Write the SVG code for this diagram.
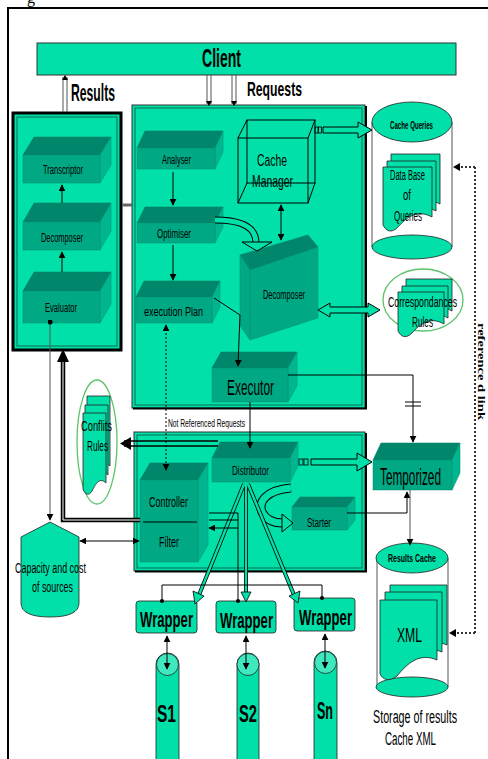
<svg xmlns="http://www.w3.org/2000/svg" width="488" height="759" viewBox="0 0 488 759">
<style>
.t{font-family:"Liberation Sans Narrow","Liberation Sans",Arial,sans-serif;fill:#000}
.b{font-weight:bold}
.gr{fill:#00e0a8}
.tp{fill:#00866a;stroke:#00795f;stroke-width:.5}
.fr{fill:#00a884;stroke:#00906f;stroke-width:.5}
.sd{fill:#00b590;stroke:#00906f;stroke-width:.5}
.ln{stroke:#000;fill:none;stroke-width:1}
.gl{stroke:#555;fill:none;stroke-width:1}
.pg{fill:#00e0a8;stroke:#222;stroke-width:.8}
.box{fill:#00e0a8;stroke:#333;stroke-width:1}
.in{fill:none;stroke:#0a6b55;stroke-width:1}
</style>
<defs>
<marker id="ah" viewBox="0 0 10 10" refX="9" refY="5" markerWidth="7" markerHeight="7" markerUnits="userSpaceOnUse" orient="auto-start-reverse"><path d="M0,0L10,5L0,10Z" fill="#000"/></marker>
<marker id="dot" viewBox="0 0 10 10" refX="5" refY="5" markerWidth="5" markerHeight="5" markerUnits="userSpaceOnUse"><circle cx="5" cy="5" r="5" fill="#000"/></marker>
<path id="pgDB" d="M383,167h49v50c-15,-8 -25,0 -34,10c-7,7 -12,4 -15,-2z"/>
<path id="pgCR" d="M398,292h46v32c-14,-8 -24,0 -32,9c-6,6 -11,4 -14,-2z"/>
<path id="pgCF" d="M83,413h23v70c-6,-6 -10,0 -14,8c-3,5 -7,4 -9,-2z"/>
<path id="pgX" d="M380,600h57v60c-18,-8 -30,4 -40,16c-8,6 -14,4 -17,-2z"/>
</defs>
<rect width="488" height="759" fill="#fff"/>
<text x="27" y="3" font-family="Liberation Serif,serif" font-size="16">g</text>
<path d="M8,759V8H488" fill="none" stroke="#000" stroke-width="2"/>

<g id="client">
<rect x="37" y="43" width="419" height="32" class="box"/>
<text x="202" y="67" class="t b" font-size="25" textLength="39" lengthAdjust="spacingAndGlyphs">Client</text>
</g>

<g id="labels">
<text x="71" y="101" class="t b" font-size="23" textLength="44" lengthAdjust="spacingAndGlyphs">Results</text>
<text x="247" y="96" class="t b" font-size="21" textLength="55" lengthAdjust="spacingAndGlyphs">Requests</text>
<text x="302" y="369" class="t" font-size="10" textLength="64" lengthAdjust="spacingAndGlyphs">Referenced Requests</text>
<text x="168" y="427" class="t" font-size="10" textLength="77" lengthAdjust="spacingAndGlyphs">Not Referenced Requests</text>
<text transform="translate(478,323) rotate(90)" font-family="Liberation Serif,serif" font-weight="bold" font-size="11" textLength="97" lengthAdjust="spacingAndGlyphs">reference d link</text>
</g>

<g id="left-box">
<rect x="13" y="113" width="108" height="237" fill="#00e0a8" stroke="#000" stroke-width="3"/>
<rect x="17" y="117" width="100" height="229" class="in"/>
</g>
<g id="transcriptor">
<polygon points="23,155 34,137 111,137 100,155" class="tp"/><polygon points="100,155 111,137 111,165 100,183" class="sd"/><rect x="23" y="155" width="77" height="28" class="fr"/>
<text x="43" y="174" class="t" font-size="12" textLength="40" lengthAdjust="spacingAndGlyphs">Transcriptor</text>
</g>
<g id="decomposer-left">
<polygon points="23,222 34,203 111,203 100,222" class="tp"/><polygon points="100,222 111,203 111,231 100,250" class="sd"/><rect x="23" y="222" width="77" height="28" class="fr"/>
<text x="41" y="242" class="t" font-size="12" textLength="42" lengthAdjust="spacingAndGlyphs">Decomposer</text>
</g>
<g id="evaluator">
<polygon points="23,291 34,272 111,272 100,291" class="tp"/><polygon points="100,291 111,272 111,304 100,323" class="sd"/><rect x="23" y="291" width="77" height="32" class="fr"/>
<text x="45" y="312" class="t" font-size="12" textLength="32" lengthAdjust="spacingAndGlyphs">Evaluator</text>
</g>

<g id="mediator-box">
<rect x="132" y="105" width="233" height="303" class="box"/>
<rect x="135" y="108" width="227" height="297" class="in"/>
<path d="M133,408.5H366V106" fill="none" stroke="#000" stroke-width="2"/>
</g>
<g id="analyser">
<polygon points="137,148 145,131 223,131 215,148" class="tp"/><polygon points="215,148 223,131 223,152 215,169" class="sd"/><rect x="137" y="148" width="78" height="21" class="fr"/>
<text x="162" y="164" class="t" font-size="12" textLength="29" lengthAdjust="spacingAndGlyphs">Analyser</text>
</g>
<g id="optimiser">
<polygon points="137,223 145,207 223,207 215,223" class="tp"/><polygon points="215,223 223,207 223,227 215,243" class="sd"/><rect x="137" y="223" width="78" height="20" class="fr"/>
<text x="157" y="238" class="t" font-size="12" textLength="34" lengthAdjust="spacingAndGlyphs">Optimiser</text>
</g>
<g id="execution-plan">
<polygon points="136,297 144,281 220,281 212,297" class="tp"/><polygon points="212,297 220,281 220,307 212,323" class="sd"/><rect x="136" y="297" width="76" height="26" class="fr"/>
<text x="144" y="316" class="t" font-size="12" textLength="59" lengthAdjust="spacingAndGlyphs">execution Plan</text>
</g>
<g id="cache-manager" fill="none" stroke="#000" stroke-width="1">
<rect x="247" y="120" width="68" height="63"/>
<rect x="238" y="138" width="70" height="65"/>
<path d="M238,138L247,120M308,138L315,120M238,203L247,183M308,203L315,183"/>
<text x="257" y="166" class="t" stroke="none" font-size="17" textLength="30" lengthAdjust="spacingAndGlyphs">Cache</text>
<text x="252" y="187" class="t" stroke="none" font-size="17" textLength="41" lengthAdjust="spacingAndGlyphs">Manager</text>
</g>
<g id="decomposer">
<polygon points="240,255 308,235 318,247 250,270" class="tp"/>
<polygon points="240,255 250,270 250,340 240,326" class="fr"/>
<polygon points="250,270 318,247 318,318 250,340" class="fr"/>
<text x="263" y="299" class="t" font-size="12" textLength="42" lengthAdjust="spacingAndGlyphs">Decomposer</text>
</g>
<g id="executor">
<polygon points="212,368 221,352 297,352 288,368" class="tp"/><polygon points="288,368 297,352 297,386 288,402" class="sd"/><rect x="212" y="368" width="76" height="34" class="fr"/>
<text x="227" y="395" class="t" font-size="22" textLength="47" lengthAdjust="spacingAndGlyphs">Executor</text>
</g>

<g id="cache-queries">
<path d="M372,122V247M452,122V247" class="gl"/>
<ellipse cx="412" cy="247" rx="40" ry="12" class="pg"/>
<ellipse cx="412" cy="122" rx="40" ry="20" class="pg"/>
<text x="390" y="129" class="t b" font-size="10" textLength="43" lengthAdjust="spacingAndGlyphs">Cache Queries</text>
<use href="#pgDB" transform="translate(8,-13)" class="pg"/>
<use href="#pgDB" transform="translate(4,-6)" class="pg"/>
<use href="#pgDB" class="pg"/>
<text x="390" y="180" class="t" font-size="14" textLength="35" lengthAdjust="spacingAndGlyphs">Data Base</text>
<text x="403" y="200" class="t" font-size="14" textLength="8" lengthAdjust="spacingAndGlyphs">of</text>
<text x="394" y="221" class="t" font-size="14" textLength="28" lengthAdjust="spacingAndGlyphs">Queries</text>
</g>

<g id="correspondances-rules">
<ellipse cx="423" cy="300" rx="40" ry="31" fill="#fff" stroke="#5cc36a" stroke-width="1.3"/>
<use href="#pgCR" transform="translate(8,-13)" class="pg"/>
<use href="#pgCR" transform="translate(4,-6)" class="pg"/>
<use href="#pgCR" class="pg"/>
<text x="388" y="307" class="t" font-size="15" textLength="69" lengthAdjust="spacingAndGlyphs">Correspondances</text>
<text x="412" y="327" class="t" font-size="15" textLength="21" lengthAdjust="spacingAndGlyphs">Rules</text>
</g>

<g id="conflits-rules">
<ellipse cx="97" cy="442" rx="20" ry="62" fill="#fff" stroke="#5cc36a" stroke-width="1.3"/>
<use href="#pgCF" transform="translate(4,-17)" class="pg"/>
<use href="#pgCF" transform="translate(2,-8)" class="pg"/>
<use href="#pgCF" class="pg"/>
<text x="81" y="431" class="t" font-size="14" textLength="31" lengthAdjust="spacingAndGlyphs">Conflits</text>
<text x="87" y="451" class="t" font-size="14" textLength="21" lengthAdjust="spacingAndGlyphs">Rules</text>
</g>

<g id="lower-box">
<rect x="134" y="432" width="231" height="139" class="box"/>
<rect x="137" y="435" width="225" height="133" class="in"/>
<path d="M135,571.5H366V433" fill="none" stroke="#000" stroke-width="2"/>
</g>
<g id="controller-filter">
<polygon points="140,480 150,463 208,463 198,480" class="tp"/><polygon points="198,480 208,463 208,545 198,562" class="sd"/><rect x="140" y="480" width="58" height="82" class="fr"/>
<path d="M143,522H197" stroke="#000" stroke-width="1"/>
<text x="149" y="507" class="t" font-size="15" textLength="39" lengthAdjust="spacingAndGlyphs">Controller</text>
<text x="159" y="547" class="t" font-size="15" textLength="20" lengthAdjust="spacingAndGlyphs">Filter</text>
</g>
<g id="distributor">
<polygon points="212,458 220,442 298,442 290,458" class="tp"/><polygon points="290,458 298,442 298,466 290,482" class="sd"/><rect x="212" y="458" width="78" height="24" class="fr"/>
<text x="232" y="475" class="t" font-size="12" textLength="37" lengthAdjust="spacingAndGlyphs">Distributor</text>
</g>
<g id="starter">
<polygon points="292,507 300,497 355,497 347,507" class="tp"/><polygon points="347,507 355,497 355,520 347,530" class="sd"/><rect x="292" y="507" width="55" height="23" class="fr"/>
<text x="307" y="527" class="t" font-size="12" textLength="24" lengthAdjust="spacingAndGlyphs">Starter</text>
</g>
<g id="temporized">
<polygon points="373,460 381,443 460,443 452,460" class="tp"/><polygon points="452,460 460,443 460,473 452,490" class="sd"/><rect x="373" y="460" width="79" height="30" class="fr"/>
<text x="380" y="485" class="t" font-size="24" textLength="61" lengthAdjust="spacingAndGlyphs">Temporized</text>
</g>

<g id="results-cache">
<path d="M377,558V687M448,558V687" class="gl"/>
<ellipse cx="412" cy="687" rx="36" ry="10" class="pg"/>
<ellipse cx="412" cy="558" rx="36" ry="15" class="pg"/>
<text x="388" y="562" class="t b" font-size="11" textLength="48" lengthAdjust="spacingAndGlyphs">Results Cache</text>
<use href="#pgX" transform="translate(10,-15)" class="pg"/>
<use href="#pgX" transform="translate(5,-8)" class="pg"/>
<use href="#pgX" class="pg"/>
<text x="397" y="642" class="t" font-size="20" textLength="25" lengthAdjust="spacingAndGlyphs">XML</text>
<text x="373" y="723" class="t" font-size="18" textLength="84" lengthAdjust="spacingAndGlyphs">Storage of results</text>
<text x="385" y="745" class="t" font-size="18" textLength="51" lengthAdjust="spacingAndGlyphs">Cache XML</text>
</g>

<g id="capacity">
<path d="M50,522L79,537V603Q79,617 50,617Q21,617 21,603V537Z" class="pg"/>
<text x="15" y="573" class="t" font-size="14" textLength="71" lengthAdjust="spacingAndGlyphs">Capacity and cost</text>
<text x="32" y="592" class="t" font-size="14" textLength="41" lengthAdjust="spacingAndGlyphs">of sources</text>
</g>

<g id="wrapper1"><rect x="136" y="601" width="61" height="32" rx="3" class="pg"/><text x="140" y="627" class="t b" font-size="22" textLength="53" lengthAdjust="spacingAndGlyphs">Wrapper</text></g>
<g id="wrapper2"><rect x="216" y="601" width="60" height="32" rx="3" class="pg"/><text x="220" y="628" class="t b" font-size="22" textLength="53" lengthAdjust="spacingAndGlyphs">Wrapper</text></g>
<g id="wrapper3"><rect x="294" y="598" width="61" height="33" rx="3" class="pg"/><text x="299" y="625" class="t b" font-size="22" textLength="53" lengthAdjust="spacingAndGlyphs">Wrapper</text></g>

<g id="s1"><rect x="156" y="653" width="23" height="120" rx="11.5" class="pg"/><circle cx="167.5" cy="664.5" r="11" fill="#40e8c0" stroke="#222" stroke-width=".8"/><text x="157" y="722" class="t b" font-size="24" textLength="19" lengthAdjust="spacingAndGlyphs">S1</text></g>
<g id="s2"><rect x="237" y="653" width="22" height="120" rx="11" class="pg"/><circle cx="248" cy="664.5" r="11" fill="#40e8c0" stroke="#222" stroke-width=".8"/><text x="239" y="722" class="t b" font-size="24" textLength="18" lengthAdjust="spacingAndGlyphs">S2</text></g>
<g id="sn"><rect x="314" y="651" width="23" height="120" rx="11.5" class="pg"/><circle cx="325.5" cy="662.5" r="11" fill="#40e8c0" stroke="#222" stroke-width=".8"/><text x="317" y="719" class="t b" font-size="24" textLength="16" lengthAdjust="spacingAndGlyphs">Sn</text></g>

<g id="connectors">
<path d="M207,75V104M211,75V104M232,75V104M236,75V104" class="gl"/>
<path d="M206,101L209,106L212,101ZM231,101L234,106L237,101Z" fill="#000"/>
<path d="M63,112V77M67,112V77" class="gl"/>
<path d="M62,80L65,75L68,80Z" fill="#000"/>
<path d="M122,205H132" stroke="#666" stroke-width="3"/>
<path d="M62,203V185" class="ln" stroke-width="1.5" marker-end="url(#ah)"/>
<path d="M62,272V252" class="ln" stroke-width="1.5" marker-end="url(#ah)"/>
<path d="M50,322V520" class="gl" marker-start="url(#dot)" marker-end="url(#ah)"/>
<path d="M173,172V205" class="ln" marker-end="url(#ah)"/>
<path d="M173,245V280" class="ln" marker-end="url(#ah)"/>
<path d="M281,205V240" class="ln" marker-start="url(#ah)" marker-end="url(#ah)"/>
<path d="M240,315L214,298M240,315L238,366" class="ln" stroke-width="2" marker-end="url(#ah)"/>
<path d="M215,220C244,220 256,228 256,243" fill="none" stroke="#000" stroke-width="7"/>
<path d="M215,220C244,220 256,228 256,243" fill="none" stroke="#00e0a8" stroke-width="5"/>
<polygon points="242,242 272,242 257,251" fill="#00e0a8" stroke="#000" stroke-width="1"/>
<rect x="315" y="127" width="3" height="6" fill="none" stroke="#000" stroke-width=".8"/>
<rect x="318.5" y="127" width="3" height="6" fill="none" stroke="#000" stroke-width=".8"/>
<path d="M323,127H358V122L372,130L358,138V133H323Z" fill="#00e0a8" stroke="#000" stroke-width="1"/>
<path d="M318,310L330,303V307H368V303L380,310L368,317V313H330V317Z" fill="#00e0a8" stroke="#000" stroke-width="1"/>
<path d="M288,375H413V442" class="ln" marker-end="url(#ah)"/>
<path d="M405,402H421M405,406H421" class="ln"/>
<path d="M166,325V470" class="ln" stroke-dasharray="2,2" marker-start="url(#ah)" marker-end="url(#ah)"/>
<path d="M250,402V448" class="ln" marker-end="url(#ah)"/>
<path d="M218,441H124M218,446H124" stroke="#000" stroke-width="1.3"/>
<path d="M131,437L120,443.5L131,450Z" fill="#000"/>
<path d="M140,520H63V360" fill="none" stroke="#000" stroke-width="4.5"/>
<path d="M140,520H63V360" fill="none" stroke="#fff" stroke-width="1"/>
<path d="M57,362L63,349L69,362Z" fill="#000"/>
<path d="M80,541H139" class="ln" marker-start="url(#ah)" marker-end="url(#ah)"/>
<rect x="299" y="459" width="4" height="6" fill="none" stroke="#000" stroke-width=".8"/>
<rect x="304" y="459" width="4" height="6" fill="none" stroke="#000" stroke-width=".8"/>
<path d="M311,459H357V453L372,462L357,471V465H311Z" fill="#00e0a8" stroke="#000" stroke-width="1"/>
<path d="M291,488C266,490 258,502 262,512C266,520 274,523 283,523" fill="none" stroke="#000" stroke-width="9"/>
<path d="M291,488C266,490 258,502 262,512C266,520 274,523 283,523" fill="none" stroke="#00e0a8" stroke-width="7"/>
<polygon points="282,514 293,523 282,532" fill="#00e0a8" stroke="#000" stroke-width="1"/>
<path d="M347,513H407V492" class="ln" marker-end="url(#ah)"/>
<path d="M410,490V545" class="gl" marker-end="url(#ah)"/>
<path d="M475,167V633" fill="none" stroke="#333" stroke-width="2" stroke-dasharray="2,2"/>
<path d="M475,167H458M475,633H452" fill="none" stroke="#333" stroke-width="2" stroke-dasharray="2,2"/>
<path d="M460,163L453,167L460,171ZM456,629L449,633L456,637Z" fill="#000"/>
<path d="M244,484L199,595M246,484V594M248,484L294,595" fill="none" stroke="#000" stroke-width="4"/>
<path d="M244,484L199,595M246,484V594M248,484L294,595" fill="none" stroke="#00e0a8" stroke-width="2.4"/>
<polygon points="193,591 204,596 195,604" fill="#00e0a8" stroke="#000" stroke-width=".8"/>
<polygon points="241,592 251,592 246,602" fill="#00e0a8" stroke="#000" stroke-width=".8"/>
<polygon points="289,596 300,591 298,603" fill="#00e0a8" stroke="#000" stroke-width=".8"/>
<path d="M238,513H209M238,520H209M238,528H209" class="ln" marker-end="url(#ah)"/>
<path d="M238,513V585M162,600V585H322V598M238,585V600" class="ln"/>
<circle cx="162" cy="601" r="2" fill="#000"/><circle cx="238" cy="601" r="2" fill="#000"/><circle cx="322" cy="598" r="2" fill="#000"/>
<path d="M167,636V669" class="ln" marker-start="url(#ah)" marker-end="url(#ah)"/>
<path d="M246,636V669" class="ln" marker-start="url(#ah)" marker-end="url(#ah)"/>
<path d="M325,634V668" class="ln" marker-start="url(#ah)" marker-end="url(#ah)"/>
</g>
</svg>
